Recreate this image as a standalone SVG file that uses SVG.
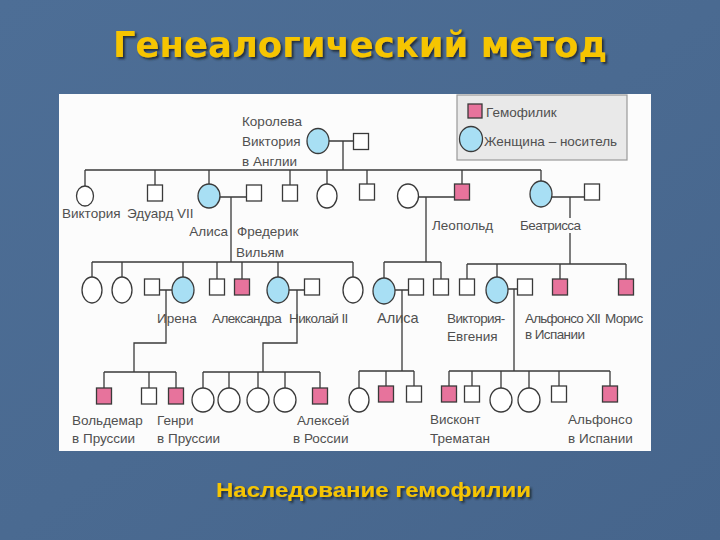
<svg xmlns="http://www.w3.org/2000/svg" width="720" height="540" viewBox="0 0 720 540">
<defs>
<linearGradient id="bg" x1="0" y1="0" x2="1" y2="1">
<stop offset="0" stop-color="#4d6e96"/>
<stop offset="0.5" stop-color="#4a6a91"/>
<stop offset="1" stop-color="#46658c"/>
</linearGradient>
<filter id="sh" x="-5%" y="-20%" width="110%" height="150%">
<feDropShadow dx="2" dy="2" stdDeviation="0.8" flood-color="#1a2533" flood-opacity="0.9"/>
</filter>
<style>
.t{font-family:"Liberation Sans",Arial,sans-serif;font-size:13.5px;fill:#505050}
.n{letter-spacing:-0.6px}
.f{fill:#fff;stroke:#3a3a3a;stroke-width:1.3}
.c{fill:#a8dff4;stroke:#3a3a3a;stroke-width:1.3}
.p{fill:#e7739c;stroke:#3a3a3a;stroke-width:1.3}
.l{fill:none;stroke:#3a3a3a;stroke-width:1.3}
.title{font-family:"DejaVu Sans",Verdana,sans-serif;font-weight:bold;font-size:35px;fill:#f6c500}
.sub{font-family:"Liberation Sans",Arial,sans-serif;font-weight:bold;font-size:20px;fill:#f6c500}
</style>
</defs>
<rect width="720" height="540" fill="url(#bg)"/>
<text class="title" x="113" y="57" textLength="494" lengthAdjust="spacingAndGlyphs" filter="url(#sh)">Генеалогический метод</text>
<rect x="59" y="94" width="592" height="357" fill="#fcfcfc"/>

<g id="legend">
<rect x="457" y="95" width="170" height="65" fill="#e9e9e9" stroke="#999" stroke-width="1.2"/>
<rect x="468" y="104" width="14" height="14" class="p"/>
<text class="t" x="486" y="117">Гемофилик</text>
<ellipse cx="471" cy="139" rx="11.5" ry="12.5" class="c"/>
<text class="t" x="484" y="146">Женщина – носитель</text>
</g>

<g id="connectors">
<path class="l" d="M329 141H353.5M343 141V170M85 170H541"/>
<path class="l" d="M85 170V186M155 170V185M209 170V184M290 170V185M327 170V184M367 170V184M462 170V184M541 170V181"/>
<path class="l" d="M220 197H246.5M231 197V262M92 262H353"/>
<path class="l" d="M92 262V277M122 262V277M183 262V277M217 262V279M242 262V279M278 262V277M353 262V277"/>
<path class="l" d="M418 197H454.5M426 197V262M384 262H441M384 262V278M441 262V279"/>
<path class="l" d="M552 197H584.5M570 197V264M467 264H626M467 264V279M497 264V277M560 264V279M626 264V279"/>
<path class="l" d="M159.5 290H172M166 290V343H134V372M104 372H176M104 372V388M149 372V388M176 372V388"/>
<path class="l" d="M289 290H304.5M297 290V343H263V372M203 372H320M203 372V388M229 372V388M258 372V388M285 372V388M320 372V388"/>
<path class="l" d="M395 290H408.5M402 290V371M359 371H414M359 371V388M386 371V386M414 371V386"/>
<path class="l" d="M508 289H517.5M514 289V371M449 371H610M449 371V386M472 371V386M501 371V388M529 371V388M559 371V386M610 371V386"/>
</g>

<g id="gen1">
<g id="queen-victoria"><ellipse cx="318" cy="141" rx="11" ry="12.5" class="c"/>
<text class="t" x="242" y="126">Королева</text><text class="t" x="242" y="146">Виктория</text><text class="t" x="242" y="166">в Англии</text></g>
<g id="albert"><rect x="353.5" y="133.5" width="15" height="16" class="f"/></g>
</g>

<g id="gen2">
<g id="victoria2"><ellipse cx="85" cy="196" rx="8.5" ry="10" class="f"/><text class="t" x="62" y="218">Виктория</text></g>
<g id="edward"><rect x="147.5" y="185" width="15" height="16" class="f"/><text class="t" x="127" y="218">Эдуард VII</text></g>
<g id="alice"><ellipse cx="209" cy="196" rx="11" ry="12" class="c"/><text class="t" x="228" y="236" text-anchor="end">Алиса</text></g>
<g id="alice-spouse"><rect x="246.5" y="185" width="15" height="16" class="f"/></g>
<g id="frederick"><rect x="282.5" y="185" width="15" height="16" class="f"/><text class="t" x="237" y="236">Фредерик</text><text class="t" x="236" y="257">Вильям</text></g>
<g id="daughter2"><ellipse cx="327" cy="196" rx="10" ry="12" class="f"/></g>
<g id="son2"><rect x="359.5" y="184" width="15" height="16" class="f"/></g>
<g id="leopold-spouse"><ellipse cx="408" cy="196" rx="10.5" ry="12" class="f"/></g>
<g id="leopold"><rect x="454.5" y="184" width="15" height="16" class="p"/><text class="t" x="432" y="230">Леопольд</text></g>
<g id="beatrice"><ellipse cx="541" cy="194" rx="11" ry="13" class="c"/><rect x="519" y="218" width="66" height="15" fill="#fcfcfc"/><text class="t n" x="520" y="230">Беатрисса</text></g>
<g id="beatrice-spouse"><rect x="584.5" y="184" width="15" height="16" class="f"/></g>
</g>

<g id="gen3">
<g id="d3a"><ellipse cx="92" cy="290" rx="10" ry="13" class="f"/></g>
<g id="d3b"><ellipse cx="122" cy="290" rx="10" ry="13" class="f"/></g>
<g id="irena-spouse"><rect x="144.5" y="279" width="15" height="16" class="f"/></g>
<g id="irena"><ellipse cx="183" cy="290" rx="11" ry="13" class="c"/><text class="t" x="157" y="323">Ирена</text></g>
<g id="s3a"><rect x="209.5" y="279" width="15" height="16" class="f"/></g>
<g id="s3b"><rect x="234.5" y="279" width="15" height="16" class="p"/></g>
<g id="alexandra"><ellipse cx="278" cy="290" rx="11" ry="13" class="c"/><text class="t n" x="212" y="323">Александра</text></g>
<g id="nicholas"><rect x="304.5" y="279" width="15" height="16" class="f"/><text class="t n" x="289" y="323">Николай II</text></g>
<g id="d3c"><ellipse cx="353" cy="290" rx="10" ry="13" class="f"/></g>
<g id="alisa"><ellipse cx="384" cy="291" rx="11" ry="13" class="c"/><text class="t" x="377" y="323" style="font-size:14.5px">Алиса</text></g>
<g id="alisa-spouse"><rect x="408.5" y="279" width="15" height="16" class="f"/></g>
<g id="s3c"><rect x="433.5" y="279" width="15" height="16" class="f"/></g>
<g id="s3d"><rect x="459.5" y="279" width="15" height="16" class="f"/></g>
<g id="victoria-eugenia"><ellipse cx="497" cy="290" rx="11" ry="13" class="c"/><text class="t n" x="447" y="323">Виктория-</text><text class="t" x="447" y="341">Евгения</text></g>
<g id="alfonso13"><rect x="517.5" y="279" width="15" height="16" class="f"/><text class="t" x="525" y="323" style="letter-spacing:-0.8px">Альфонсо XII</text><text class="t n" x="525" y="339">в Испании</text></g>
<g id="s3e"><rect x="552.5" y="279" width="15" height="16" class="p"/></g>
<g id="maurice"><rect x="618.5" y="279" width="15" height="16" class="p"/><text class="t n" x="605" y="323">Морис</text></g>
</g>

<g id="gen4">
<g id="waldemar"><rect x="96.5" y="388" width="15" height="16" class="p"/><text class="t" x="72" y="425">Вольдемар</text><text class="t" x="72" y="443">в Пруссии</text></g>
<g id="s4a"><rect x="141.5" y="388" width="15" height="16" class="f"/></g>
<g id="henry"><rect x="168.5" y="388" width="15" height="16" class="p"/><text class="t" x="157" y="425">Генри</text><text class="t" x="157" y="443">в Пруссии</text></g>
<g id="d4a"><ellipse cx="203" cy="400" rx="11" ry="12" class="f"/></g>
<g id="d4b"><ellipse cx="229" cy="400" rx="11" ry="12" class="f"/></g>
<g id="d4c"><ellipse cx="258" cy="400" rx="11" ry="12" class="f"/></g>
<g id="d4d"><ellipse cx="285" cy="400" rx="11" ry="12" class="f"/></g>
<g id="alexei"><rect x="312.5" y="388" width="15" height="16" class="p"/><text class="t" x="297" y="425">Алексей</text><text class="t" x="293" y="443">в России</text></g>
<g id="d4e"><ellipse cx="359" cy="400" rx="10" ry="12" class="f"/></g>
<g id="s4b"><rect x="378.5" y="386" width="15" height="16" class="p"/></g>
<g id="s4c"><rect x="406.5" y="386" width="15" height="16" class="f"/></g>
<g id="viscount"><rect x="441.5" y="386" width="15" height="16" class="p"/><text class="t" x="430" y="424">Висконт</text><text class="t" x="430" y="443">Трематан</text></g>
<g id="s4d"><rect x="464.5" y="386" width="15" height="16" class="f"/></g>
<g id="d4f"><ellipse cx="501" cy="400" rx="11" ry="12" class="f"/></g>
<g id="d4g"><ellipse cx="529" cy="400" rx="11" ry="12" class="f"/></g>
<g id="s4e"><rect x="551.5" y="386" width="15" height="16" class="f"/></g>
<g id="alfonso"><rect x="602.5" y="386" width="15" height="16" class="p"/><text class="t" x="568" y="424">Альфонсо</text><text class="t" x="568" y="443">в Испании</text></g>
</g>

<text class="sub" x="216" y="497" textLength="315" lengthAdjust="spacingAndGlyphs" filter="url(#sh)">Наследование гемофилии</text>
</svg>
